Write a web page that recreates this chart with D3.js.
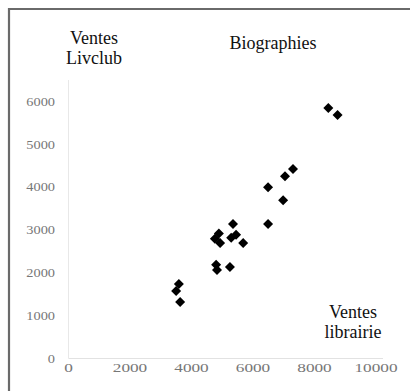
<!DOCTYPE html>
<html>
<head>
<meta charset="utf-8">
<script src="https://cdn.jsdelivr.net/npm/d3@7"></script>
<style>
  body { margin: 0; background: #fff; }
  svg { display: block; }
  .serif { font-family: "Liberation Serif", "Times New Roman", Times, "DejaVu Serif", serif; }
</style>
</head>
<body>
<div id="chart"></div>
<script>
(function() {
  // sales: bookshop (x) vs Livclub (y), biographies
  var librairie = [8450, 8750, 7300, 7040, 6490, 6980, 6490, 5350, 4890, 4760,
                   4930, 5290, 5450, 5680, 4800, 4830, 5250, 3590, 3500, 3630];
  var livclub = [5850, 5690, 4430, 4260, 4000, 3700, 3140, 3140, 2920, 2800,
                 2700, 2820, 2890, 2700, 2190, 2070, 2140, 1740, 1580, 1320];
  var xTicks = [0, 2000, 4000, 6000, 8000, 10000];
  var yTicks = [0, 1000, 2000, 3000, 4000, 5000, 6000];

  var width = 415;
  var height = 391;

  var svg = d3.select("#chart")
    .append("svg")
    .attr("width", width)
    .attr("height", height);

  // frame (left + top edges only)
  svg.append("path")
    .attr("d", "M9,391 L9,9 L410,9")
    .attr("fill", "none")
    .attr("stroke", "#6a6a6a")
    .attr("stroke-width", 2.2);

  var x = d3.scaleLinear().domain([0, 10000]).range([68.5, 376]);
  var y = d3.scaleLinear().domain([0, 6000]).range([358.5, 101.7]);

  // axis lines
  svg.append("line")
    .attr("x1", x(0)).attr("x2", 383)
    .attr("y1", y(0)).attr("y2", y(0))
    .attr("stroke", "#e2e2e2");
  svg.append("line")
    .attr("x1", x(0)).attr("x2", x(0))
    .attr("y1", y(0)).attr("y2", 80)
    .attr("stroke", "#e8e8e8");

  // tick labels are stretched sideways in the source image
  svg.append("g").selectAll("text")
    .data(yTicks)
    .enter()
    .append("text")
    .attr("class", "serif")
    .attr("transform", function(d) { return "translate(55," + y(d) + ") scale(1.25,1)"; })
    .attr("dy", "0.35em")
    .attr("text-anchor", "end")
    .attr("font-size", 11.5)
    .attr("fill", "#777")
    .text(function(d) { return d; });

  svg.append("g").selectAll("text")
    .data(xTicks)
    .enter()
    .append("text")
    .attr("class", "serif")
    .attr("transform", function(d) { return "translate(" + x(d) + ",368) scale(1.5,1)"; })
    .attr("dy", "0.35em")
    .attr("text-anchor", "middle")
    .attr("font-size", 11.5)
    .attr("fill", "#777")
    .text(function(d) { return d; });

  // labels
  function label(lines, cx, cy) {
    var t = svg.append("text")
      .attr("class", "serif")
      .attr("font-size", 18)
      .attr("fill", "#111")
      .attr("text-anchor", "middle");
    lines.forEach(function(s, i) {
      t.append("tspan")
        .attr("x", cx)
        .attr("y", cy + i * 20)
        .attr("dy", "0.35em")
        .text(s);
    });
  }
  label(["Ventes", "Livclub"], 94, 38);
  label(["Biographies"], 273, 43);
  label(["Ventes", "librairie"], 353, 312);

  // points
  var diamond = d3.symbol().type(d3.symbolSquare).size(50);
  svg.append("g").selectAll("path")
    .data(librairie)
    .enter()
    .append("path")
    .attr("d", diamond)
    .attr("transform", function(d, i) {
      return "translate(" + x(d) + "," + y(livclub[i]) + ") rotate(45)";
    })
    .attr("fill", "#000");
})();
</script>
</body>
</html>
